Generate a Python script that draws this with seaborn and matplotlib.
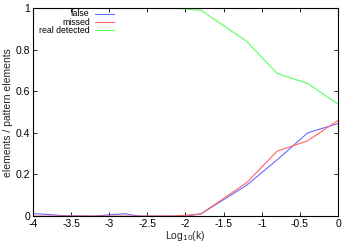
import pandas as pd
import seaborn as sns
import matplotlib.pyplot as plt

# values
log_k = [-4.0, -3.8, -3.6, -3.2, -3.0, -2.8, -2.6, -2.2, -2.0, -1.8, -1.2, -0.8, -0.4, 0.0]
false_vals = [0.012, 0.008, 0.002, 0.0, 0.006, 0.011, 0.0, 0.0, 0.0, 0.01, 0.148, 0.27, 0.40, 0.445]
missed_vals = [0.0, 0.0, 0.0, 0.0, 0.0, 0.0, 0.0, 0.0, 0.004, 0.01, 0.16, 0.312, 0.362, 0.46]
detected_vals = [1.0, 1.0, 1.0, 1.0, 1.0, 1.0, 1.0, 1.0, 0.995, 0.99, 0.841, 0.686, 0.638, 0.538]

series_names = ["false", "missed", "real detected"]
series_colors = ["#6a6aff", "#ff6464", "#5aff5a"]

df = pd.DataFrame({
    "log_k": log_k * 3,
    "value": false_vals + missed_vals + detected_vals,
    "series": [series_names[0]] * len(log_k) + [series_names[1]] * len(log_k) + [series_names[2]] * len(log_k),
})

sns.set_theme(style="ticks")
plt.rcParams['font.family'] = ['Liberation Sans', 'DejaVu Sans']
plt.rcParams['font.size'] = 7.5

fig = plt.figure(figsize=(3.5, 2.45), dpi=100)
ax = fig.add_axes([0.094, 0.118, 0.872, 0.849])

sns.lineplot(data=df, x="log_k", y="value", hue="series", hue_order=series_names,
             palette=series_colors, linewidth=0.8, ax=ax, legend=False)

ax.set_xlim(-4, 0)
ax.set_ylim(0, 1)
ax.set_xticks([-4, -3.5, -3, -2.5, -2, -1.5, -1, -0.5, 0])
ax.set_xticklabels(["-4", "-3.5", "-3", "-2.5", "-2", "-1.5", "-1", "-0.5", "0"])
ax.set_yticks([0, 0.2, 0.4, 0.6, 0.8, 1])
ax.set_yticklabels(["0", "0.2", "0.4", "0.6", "0.8", "1"])
ax.tick_params(direction="in", top=True, right=True, length=3, width=0.6,
               labelsize=7.5, pad=2, colors="black")
for s in ax.spines.values():
    s.set_linewidth(0.8)
    s.set_color("black")

ax.set_xlabel("Log$_{10}$(k)", fontsize=7.5, labelpad=0)
ax.set_ylabel("elements / pattern elements", fontsize=7.5, labelpad=2)

# gnuplot-style key: right-aligned labels, sample lines to their right
key_y = [0.972, 0.933, 0.894]
for name, color, yy in zip(series_names, series_colors, key_y):
    ax.text(0.187, yy, name, transform=ax.transAxes, ha="right", va="center",
            fontsize=6.3, color="black")
    ax.plot([0.203, 0.266], [yy, yy], transform=ax.transAxes, color=color,
            linewidth=0.8, clip_on=False)

fig.savefig("out.png", dpi=100)
